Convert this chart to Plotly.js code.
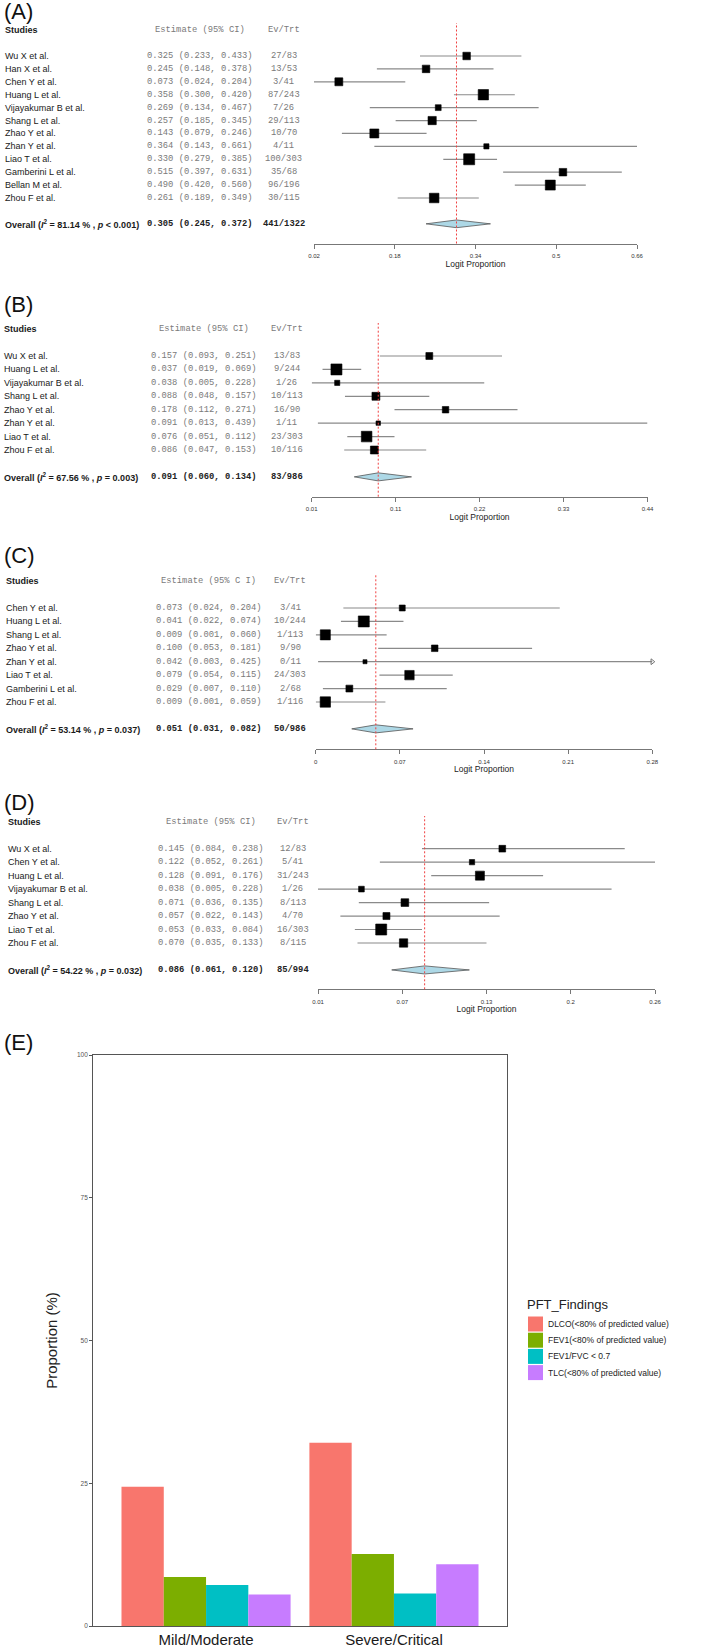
<!DOCTYPE html>
<html>
<head>
<meta charset="utf-8">
<script src="https://cdn.plot.ly/plotly-3.0.1.min.js"></script>
<style>body { margin: 0; background: #fff; }</style>
</head>
<body>
<div id="myPlot" style="width:709px;height:1651px"></div>
<script>
// ---- (A) ----
var studiesA = ["Wu X et al.", "Han X et al.", "Chen Y et al.", "Huang L et al.", "Vijayakumar B et al.", "Shang L et al.", "Zhao Y et al.", "Zhan Y et al.", "Liao T et al.", "Gamberini L et al.", "Bellan M et al.", "Zhou F et al."];
var estA = [0.325, 0.245, 0.073, 0.358, 0.269, 0.257, 0.143, 0.364, 0.330, 0.515, 0.490, 0.261];
var lowA = [0.233, 0.148, 0.024, 0.300, 0.134, 0.185, 0.079, 0.143, 0.279, 0.397, 0.420, 0.189];
var highA = [0.433, 0.378, 0.204, 0.420, 0.467, 0.345, 0.246, 0.661, 0.385, 0.631, 0.560, 0.349];
var evA = [27, 13, 3, 87, 7, 29, 10, 4, 100, 35, 96, 30];
var trtA = [83, 53, 41, 243, 26, 113, 70, 11, 303, 68, 196, 115];
var weightA = [6.6, 6.6, 7.3, 12.4, 4.0, 7.9, 9.4, 3.1, 14.1, 6.6, 11.6, 10.6];
var overallA = [0.305, 0.245, 0.372];
var i2A = "81.14", pA = "< 0.001";
var ticksA = ["0.02", "0.18", "0.34", "0.5", "0.66"];

// ---- (B) ----
var studiesB = ["Wu X et al.", "Huang L et al.", "Vijayakumar B et al.", "Shang L et al.", "Zhao Y et al.", "Zhan Y et al.", "Liao T et al.", "Zhou F et al."];
var estB = [0.157, 0.037, 0.038, 0.088, 0.178, 0.091, 0.076, 0.086];
var lowB = [0.093, 0.019, 0.005, 0.048, 0.112, 0.013, 0.051, 0.047];
var highB = [0.251, 0.069, 0.228, 0.157, 0.271, 0.439, 0.112, 0.153];
var evB = [13, 9, 1, 10, 16, 1, 23, 10];
var trtB = [83, 244, 26, 113, 90, 11, 303, 116];
var weightB = [9.6, 24.5, 5.4, 12.7, 8.5, 4.0, 22.7, 12.7];
var overallB = [0.091, 0.060, 0.134];
var i2B = "67.56", pB = "= 0.003";
var ticksB = ["0.01", "0.11", "0.22", "0.33", "0.44"];

// ---- (C) ----
var studiesC = ["Chen Y et al.", "Huang L et al.", "Shang L et al.", "Zhao Y et al.", "Zhan Y et al.", "Liao T et al.", "Gamberini L et al.", "Zhou F et al."];
var estC = [0.073, 0.041, 0.009, 0.100, 0.042, 0.079, 0.029, 0.009];
var lowC = [0.024, 0.022, 0.001, 0.053, 0.003, 0.054, 0.007, 0.001];
var highC = [0.204, 0.074, 0.060, 0.181, 0.425, 0.115, 0.110, 0.059];
var evC = [3, 10, 1, 9, 0, 24, 2, 1];
var trtC = [41, 244, 113, 90, 11, 303, 68, 116];
var weightC = [6.3, 21.6, 18.1, 7.7, 2.9, 15.8, 8.4, 19.1];
var overallC = [0.051, 0.031, 0.082];
var i2C = "53.14", pC = "= 0.037";
var ticksC = ["0", "0.07", "0.14", "0.21", "0.28"];
var axisMaxC = 0.281;

// ---- (D) ----
var studiesD = ["Wu X et al.", "Chen Y et al.", "Huang L et al.", "Vijayakumar B et al.", "Shang L et al.", "Zhao Y et al.", "Liao T et al.", "Zhou F et al."];
var estD = [0.145, 0.122, 0.128, 0.038, 0.071, 0.057, 0.053, 0.070];
var lowD = [0.084, 0.052, 0.091, 0.005, 0.036, 0.022, 0.033, 0.035];
var highD = [0.238, 0.261, 0.176, 0.228, 0.135, 0.143, 0.084, 0.133];
var evD = [12, 5, 31, 1, 8, 4, 16, 8];
var trtD = [83, 41, 243, 26, 113, 70, 303, 115];
var weightD = [9.3, 5.8, 16.7, 6.7, 12.2, 10.1, 25.0, 14.2];
var overallD = [0.086, 0.061, 0.120];
var i2D = "54.22", pD = "= 0.032";
var ticksD = ["0.01", "0.07", "0.13", "0.2", "0.26"];

// ---- (E) ----
var severity = ["Mild/Moderate", "Severe/Critical"];
var findings = ["DLCO(<80% of predicted value)", "FEV1(<80% of predicted value)", "FEV1/FVC < 0.7", "TLC(<80% of predicted value)"];
var dlco = [24.4, 32.1];
var fev1 = [8.6, 12.6];
var fev1fvc = [7.2, 5.7];
var tlc = [5.5, 10.8];
var findingColors = ["#F8766D", "#7CAE00", "#00BFC4", "#C77CFF"];

var W = 709, H = 1651;
function px(x) { return x / W; }
function py(y) { return 1 - y / H; }

var SANS = "Liberation Sans, Arial, sans-serif";
var MONO = "Liberation Mono, Courier New, monospace";

var data = [];
var annotations = [];
var shapes = [];
var layout = {
    width: W, height: H,
    margin: { l: 0, r: 0, t: 0, b: 0 },
    paper_bgcolor: "#fff",
    plot_bgcolor: "#fff",
    font: { family: SANS, color: "#222" },
    hovermode: false,
    showlegend: false
};

function forest(k, letter, names, est, low, high, ev, trt, weight, overall, i2, pval, ciHeader, tickText, axisMax, g) {
    var xa = k == 1 ? "x" : "x" + k;
    var ya = k == 1 ? "y" : "y" + k;
    var n = names.length;
    var rows = names.map((s, i) => i);

    // CI lines
    var cx = [], cy = [];
    for (var i = 0; i < n; i++) {
        cx.push(low[i], high[i], null);
        cy.push(i, i, null);
    }
    data.push({ x: cx, y: cy, xaxis: xa, yaxis: ya, mode: "lines", line: { color: "#8a8a8a", width: 1.2 } });

    // weighted squares
    var wMax = Math.max(...weight);
    data.push({
        x: est, y: rows, xaxis: xa, yaxis: ya, mode: "markers",
        marker: { symbol: "square", color: "#000", opacity: 1, size: weight.map(w => 11 * Math.sqrt(w / wMax)), line: { width: 0.6, color: "#000" } }
    });

    // overall diamond
    var o = n + 1;
    data.push({
        x: [overall[1], overall[0], overall[2], overall[0], overall[1]],
        y: [o, o - 0.3, o, o + 0.3, o],
        xaxis: xa, yaxis: ya, mode: "lines", fill: "toself", fillcolor: "#add8e6",
        line: { color: "#555", width: 0.8 }
    });

    var lo = Math.min(...low);
    var hi = axisMax || Math.max(...high);
    var tickVals = tickText.map((t, j) => lo + j * (hi - lo) / 4);

    // CIs running past the axis end get an arrow tip
    var cut = rows.filter(i => high[i] > hi);
    if (cut.length) {
        data.push({
            x: cut.map(i => hi), y: cut, xaxis: xa, yaxis: ya, mode: "markers", cliponaxis: false,
            marker: { symbol: "triangle-right-open", size: 5, color: "#777", line: { width: 1, color: "#777" } }
        });
    }

    layout["xaxis" + (k == 1 ? "" : k)] = {
        domain: [px(g.x0), px(g.x1)], range: [lo, hi], anchor: ya,
        showline: true, linecolor: "#777", linewidth: 1, ticks: "outside", ticklen: 4, tickcolor: "#777",
        tickvals: tickVals, ticktext: tickText, tickfont: { size: 6, color: "#333" }, ticklabelstandoff: 2,
        showgrid: false, zeroline: false,
        title: { text: "Logit Proportion", font: { size: 8.5, color: "#222" }, standoff: 2 }
    };
    layout["yaxis" + (k == 1 ? "" : k)] = {
        domain: [py(g.bottom), py(g.top)],
        range: [(g.bottom - g.rowTop) / g.step, (g.top - g.rowTop) / g.step],
        anchor: xa, visible: false
    };

    // pooled estimate reference line
    shapes.push({
        type: "line", xref: xa, yref: ya + " domain", x0: overall[0], x1: overall[0], y0: 0, y1: 1,
        line: { color: "#f04040", width: 1, dash: "2px,2px" }
    });

    // text columns
    var nameFont = { family: SANS, size: 9, color: "#1a1a1a" };
    var monoFont = { family: MONO, size: 8.8, color: "#7a7a7a" };
    var sumEv = ev.reduce((a, b) => a + b, 0);
    var sumTrt = trt.reduce((a, b) => a + b, 0);

    annotations.push({ xref: "paper", yref: "paper", x: px(2), y: py(g.letterY), xanchor: "left", yanchor: "middle", text: letter, showarrow: false, font: { family: SANS, size: 22, color: "#111" } });
    annotations.push({ xref: "paper", yref: ya, x: px(g.nameX), y: -2, xanchor: "left", text: "<b>Studies</b>", showarrow: false, font: nameFont });
    annotations.push({ xref: "paper", yref: ya, x: px(g.estX), y: -2, xanchor: "center", text: ciHeader, showarrow: false, font: monoFont });
    annotations.push({ xref: "paper", yref: ya, x: px(g.evX), y: -2, xanchor: "center", text: "Ev/Trt", showarrow: false, font: monoFont });

    for (var i = 0; i < n; i++) {
        annotations.push({ xref: "paper", yref: ya, x: px(g.nameX), y: i, xanchor: "left", text: names[i], showarrow: false, font: nameFont });
        annotations.push({ xref: "paper", yref: ya, x: px(g.estX), y: i, xanchor: "center", showarrow: false, font: monoFont,
            text: est[i].toFixed(3) + " (" + low[i].toFixed(3) + ", " + high[i].toFixed(3) + ")" });
        annotations.push({ xref: "paper", yref: ya, x: px(g.evX), y: i, xanchor: "center", text: ev[i] + "/" + trt[i], showarrow: false, font: monoFont });
    }

    var boldMono = { family: MONO, size: 8.8, color: "#222" };
    annotations.push({ xref: "paper", yref: ya, x: px(g.nameX), y: o, xanchor: "left", showarrow: false, font: nameFont,
        text: "<b>Overall (<i>I</i><sup>2</sup> = " + i2 + " % , <i>p</i> " + pval.replace("<", "&lt;") + ")</b>" });
    annotations.push({ xref: "paper", yref: ya, x: px(g.estX), y: o, xanchor: "center", showarrow: false, font: boldMono,
        text: "<b>" + overall[0].toFixed(3) + " (" + overall[1].toFixed(3) + ", " + overall[2].toFixed(3) + ")</b>" });
    annotations.push({ xref: "paper", yref: ya, x: px(g.evX), y: o, xanchor: "center", showarrow: false, font: boldMono,
        text: "<b>" + sumEv + "/" + sumTrt + "</b>" });
}

forest(1, "(A)", studiesA, estA, lowA, highA, evA, trtA, weightA, overallA, i2A, pA, "Estimate (95% CI)", ticksA, null,
    { rowTop: 56, step: 12.91, top: 23, bottom: 243.5, x0: 314, x1: 637, nameX: 3, estX: 200, evX: 283.5, letterY: 11.5 });
forest(2, "(B)", studiesB, estB, lowB, highB, evB, trtB, weightB, overallB, i2B, pB, "Estimate (95% CI)", ticksB, null,
    { rowTop: 356, step: 13.43, top: 323, bottom: 496.7, x0: 311.7, x1: 647.5, nameX: 2, estX: 204, evX: 286.5, letterY: 305 });
forest(3, "(C)", studiesC, estC, lowC, highC, evC, trtC, weightC, overallC, i2C, pC, "Estimate (95% C I)", ticksC, axisMaxC,
    { rowTop: 608, step: 13.43, top: 575, bottom: 749.3, x0: 315.7, x1: 652.3, nameX: 3.5, estX: 208.5, evX: 290, letterY: 555 });
forest(4, "(D)", studiesD, estD, lowD, highD, evD, trtD, weightD, overallD, i2D, pD, "Estimate (95% CI)", ticksD, null,
    { rowTop: 848.7, step: 13.47, top: 816, bottom: 989.3, x0: 318, x1: 655, nameX: 6, estX: 211, evX: 292.5, letterY: 802 });

// ---- (E) grouped bars ----
var seriesE = [dlco, fev1, fev1fvc, tlc];
for (var j = 0; j < seriesE.length; j++) {
    data.push({
        type: "bar", x: severity, y: seriesE[j], name: findings[j], xaxis: "x5", yaxis: "y5",
        marker: { color: findingColors[j], line: { width: 0 } }
    });
}
layout.barmode = "group";
layout.bargap = 0.1;
layout.bargroupgap = 0;
layout.xaxis5 = {
    domain: [px(93.3), px(506.7)], anchor: "y5", type: "category", range: [-0.6, 1.6],
    showline: true, mirror: true, linecolor: "#555", linewidth: 1.2, ticks: "",
    tickfont: { size: 15, color: "#1a1a1a" }, showgrid: false, zeroline: false
};
layout.yaxis5 = {
    domain: [py(1626), py(1055)], anchor: "x5", range: [0, 100],
    tickvals: [0, 25, 50, 75, 100], ticks: "outside", ticklen: 3, tickcolor: "#555",
    tickfont: { size: 6.5, color: "#555" }, showline: true, mirror: true, linecolor: "#555", linewidth: 1.2,
    showgrid: false, zeroline: false,
    title: { text: "Proportion (%)", font: { size: 15, color: "#222" }, standoff: 15 }
};

// legend drawn ggplot-style: 15px keys stacked tightly
annotations.push({ xref: "paper", yref: "paper", x: px(525), y: py(1304.5), xanchor: "left", yanchor: "middle", text: "PFT_Findings", showarrow: false, font: { family: SANS, size: 13, color: "#222" } });
for (var j = 0; j < findings.length; j++) {
    var cy0 = 1324 + j * 16.2;
    shapes.push({ type: "rect", xref: "paper", yref: "paper", x0: px(528), x1: px(543), y0: py(cy0 - 7.5), y1: py(cy0 + 7.5), fillcolor: findingColors[j], line: { width: 0 } });
    annotations.push({ xref: "paper", yref: "paper", x: px(546), y: py(cy0), xanchor: "left", yanchor: "middle", text: findings[j].replace("<", "&lt;"), showarrow: false, font: { family: SANS, size: 8.5, color: "#222" } });
}

annotations.push({ xref: "paper", yref: "paper", x: px(2), y: py(1042), xanchor: "left", yanchor: "middle", text: "(E)", showarrow: false, font: { family: SANS, size: 22, color: "#111" } });

layout.annotations = annotations;
layout.shapes = shapes;

Plotly.newPlot("myPlot", data, layout, { staticPlot: true, displayModeBar: false });
</script>
</body>
</html>
